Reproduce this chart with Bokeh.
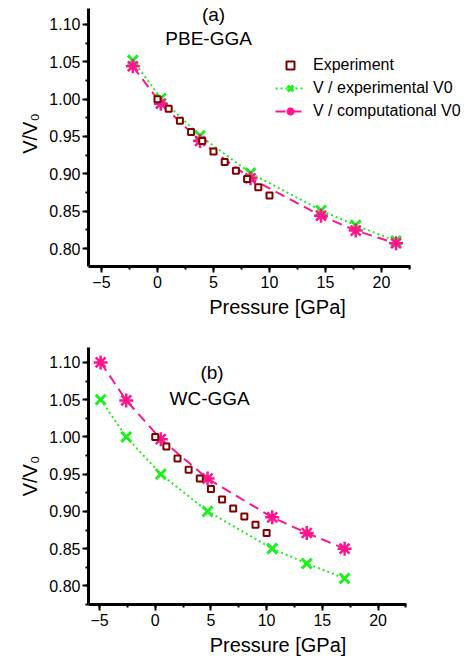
from bokeh.plotting import figure
from bokeh.layouts import column
from bokeh.models import (Label, Legend, LegendItem, SingleIntervalTicker,
                          NumeralTickFormatter, Range1d)
from bokeh.embed import file_html
from bokeh.resources import INLINE

# ---- data ----
exp_p = [0, 1, 2, 3, 4, 5, 6, 7, 8, 9, 10]
exp_v = [1.000, 0.987, 0.971, 0.956, 0.944, 0.930, 0.916, 0.904, 0.893, 0.882, 0.871]

a_p = [-2.2, 0.3, 3.8, 8.3, 14.6, 17.7, 21.3]
a_v_exp = [1.052, 1.001, 0.951, 0.901, 0.851, 0.831, 0.810]
a_v_comp = [1.044, 0.994, 0.944, 0.894, 0.844, 0.824, 0.807]

b_p = [-4.9, -2.6, 0.5, 4.7, 10.5, 13.6, 17.0]
b_v_exp = [1.050, 1.000, 0.950, 0.900, 0.850, 0.830, 0.810]
b_v_comp = [1.100, 1.049, 0.997, 0.944, 0.892, 0.871, 0.850]

labels = ["Experiment", "V / experimental V0", "V / computational V0"]

FONT = "Liberation Sans"
GREEN = "#1fee1f"
PINK = "#ff168c"
DRED = "#800000"


def make_fig(xb, yb, yr, px_per_x, left, fw, fh, top):
    xr = (xb[0], xb[0] + fw / px_per_x)
    p = figure(output_backend="svg", toolbar_location=None,
               frame_width=fw, frame_height=fh,
               x_range=Range1d(*xr), y_range=Range1d(*yr),
               min_border_left=left, min_border_right=0,
               min_border_top=top, min_border_bottom=54,
               x_axis_label="Pressure [GPa]", y_axis_label="V/V\u2080")
    p.outline_line_color = None
    p.xgrid.visible = False
    p.ygrid.visible = False
    p.xaxis.ticker = SingleIntervalTicker(interval=5, num_minor_ticks=2)
    p.yaxis.ticker = SingleIntervalTicker(interval=0.05, num_minor_ticks=2)
    p.yaxis.formatter = NumeralTickFormatter(format="0.00")
    p.xaxis.bounds = xb
    p.yaxis.bounds = yb
    for ax in (p.xaxis[0], p.yaxis[0]):
        ax.axis_line_width = 3
        ax.major_tick_line_width = 2
        ax.minor_tick_line_width = 2
        ax.major_tick_out = 6
        ax.major_tick_in = 0
        ax.minor_tick_out = 3
        ax.minor_tick_in = 0
        ax.major_label_text_font = FONT
        ax.major_label_text_font_size = "16px"
        ax.major_label_text_color = "black"
        ax.axis_label_text_font = FONT
        ax.axis_label_text_font_size = "20px"
        ax.axis_label_text_font_style = "normal"
        ax.axis_label_text_color = "black"
        ax.axis_label_standoff = 5
    p.yaxis.major_label_standoff = 2
    p.xaxis.major_label_standoff = 3
    return p


def add_series(p, px, vexp, vcomp):
    lg = p.line(px, vexp, line_color=GREEN, line_width=2, line_dash="2 3")
    sg = p.scatter(px, vexp, marker="x", size=14, line_color=GREEN, line_width=3)
    lp = p.line(px, vcomp, line_color=PINK, line_width=2, line_dash="10 6")
    sp = p.scatter(px, vcomp, marker="asterisk", size=14, line_color=PINK, line_width=2.5)
    se = p.scatter(exp_p, exp_v, marker="square", size=6, line_color=DRED,
                   line_width=2, fill_color="white")
    return se, (lg, sg), (lp, sp)


def add_text(p, x, y, text, align):
    p.add_layout(Label(x=x, y=y, text=text, text_align=align,
                       text_baseline="middle", text_font=FONT,
                       text_font_size="19px", text_color="black"))


# ---- top panel ----
p1 = make_fig((-6.16, 22.6), (0.776, 1.121), (0.7759, 1.1321), 11.2, 88, 378, 266, 0)
se, g, k = add_series(p1, a_p, a_v_exp, a_v_comp)
add_text(p1, 5.0, 1.1134, "(a)", "center")
add_text(p1, 0.7, 1.081, "PBE-GGA", "left")
leg = Legend(items=[LegendItem(label=labels[0], renderers=[se]),
                    LegendItem(label=labels[1], renderers=list(g)),
                    LegendItem(label=labels[2], renderers=list(k))],
             location=(187, 145), padding=0, margin=0, spacing=3,
             glyph_width=30, glyph_height=20, label_height=20,
             label_standoff=8, border_line_color=None,
             background_fill_alpha=0, label_text_font=FONT,
             label_text_font_size="16px", label_text_color="black")
p1.add_layout(leg)

# ---- bottom panel ----
p2 = make_fig((-5.99, 22.6), (0.775, 1.12), (0.775, 1.12), 11.14, 87, 379, 257, 27)
add_series(p2, b_p, b_v_exp, b_v_comp)
add_text(p2, 5.1, 1.086, "(b)", "center")
add_text(p2, 1.28, 1.051, "WC-GGA", "left")

layout = column(p1, p2, spacing=0)
open("out.html", "w").write(file_html(layout, INLINE))
